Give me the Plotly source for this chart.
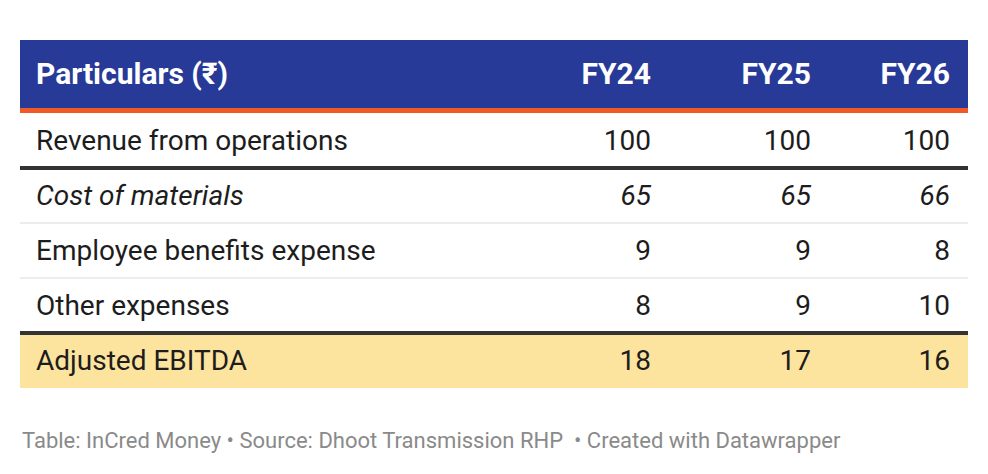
import plotly.graph_objects as go

# table contents
particulars = [
    "Revenue from operations",
    "Cost of materials",
    "Employee benefits expense",
    "Other expenses",
    "Adjusted EBITDA",
]
years = ["FY24", "FY25", "FY26"]
fy24 = [100, 65, 9, 8, 18]
fy25 = [100, 65, 9, 9, 17]
fy26 = [100, 66, 8, 10, 16]
header_label = "Particulars (₹)"
italic_rows = [1]
highlight_rows = [4]
footer_text = "Table: InCred Money • Source: Dhoot Transmission RHP  • Created with Datawrapper"

# layout (pixels of the 988x474 page)
W, H = 988, 474
PAGE_OFFSET = 8  # default body margin of the html page
TABLE_LEFT, TABLE_RIGHT = 20, 968
LABEL_X = 36
VALUE_X = [651, 811, 950]
ROW_PX = 55
FIRST_ROW_CENTER = 140.5
TEXT_NUDGE = 2  # plotly's "middle" sits a touch high
HEADER_TOP, HEADER_BOTTOM, RULE_BOTTOM = 40, 108, 113
HEADER_TEXT = 76
FOOTER_Y = 440

BLUE = "#283a97"
ORANGE = "#f05a28"
YELLOW = "#fde49e"
DARK = "#333333"
LIGHT = "#e6e6e6"
TEXT = "#1d1d1d"
FONT = "Roboto"


def row_y(px):
    # page pixel -> row units on the y axis
    return (px - FIRST_ROW_CENTER) / ROW_PX


def fmt(v, i):
    s = str(v)
    return f"<i>{s}</i>" if i in italic_rows else s


rows = list(range(len(particulars)))
text_rows = [r + TEXT_NUDGE / ROW_PX for r in rows]
fig = go.Figure()

# row labels
fig.add_trace(
    go.Scatter(
        x=[LABEL_X] * len(rows),
        y=text_rows,
        mode="text",
        text=[fmt(p, i) for i, p in enumerate(particulars)],
        textposition="middle right",
        textfont=dict(family=FONT, size=28, color=TEXT),
        hoverinfo="skip",
    )
)

# value columns
for x, vals in zip(VALUE_X, [fy24, fy25, fy26]):
    fig.add_trace(
        go.Scatter(
            x=[x] * len(rows),
            y=text_rows,
            mode="text",
            text=[fmt(v, i) for i, v in enumerate(vals)],
            textposition="middle left",
            textfont=dict(family=FONT, size=28, color=TEXT),
            hoverinfo="skip",
        )
    )

# header row
fig.add_trace(
    go.Scatter(
        x=[LABEL_X] + VALUE_X,
        y=[row_y(HEADER_TEXT)] * (len(years) + 1),
        mode="text",
        text=[header_label] + years,
        textposition=["middle right"] + ["middle left"] * len(years),
        textfont=dict(family=FONT, size=30, color="white", weight="bold"),
        hoverinfo="skip",
    )
)

shapes = [
    dict(type="rect", xref="x", yref="y", layer="below", line_width=0,
         x0=TABLE_LEFT, x1=TABLE_RIGHT, y0=row_y(HEADER_TOP), y1=row_y(HEADER_BOTTOM),
         fillcolor=BLUE),
    dict(type="rect", xref="x", yref="y", layer="below", line_width=0,
         x0=TABLE_LEFT, x1=TABLE_RIGHT, y0=row_y(HEADER_BOTTOM), y1=row_y(RULE_BOTTOM),
         fillcolor=ORANGE),
]
for i in highlight_rows:
    shapes.append(
        dict(type="rect", xref="x", yref="y", layer="below", line_width=0,
             x0=TABLE_LEFT, x1=TABLE_RIGHT, y0=i - 0.5, y1=i + 0.5, fillcolor=YELLOW)
    )
for i in rows[:-1]:
    heavy = i == 0 or (i + 1) in highlight_rows
    shapes.append(
        dict(type="line", xref="x", yref="y", layer="above",
             x0=TABLE_LEFT, x1=TABLE_RIGHT, y0=i + 0.5, y1=i + 0.5,
             line=dict(color=DARK if heavy else LIGHT, width=4 if heavy else 1.5))
    )

fig.add_annotation(
    x=TABLE_LEFT, y=row_y(FOOTER_Y), xref="x", yref="y",
    xanchor="left", yanchor="middle", showarrow=False,
    text=footer_text,
    font=dict(family=FONT, size=22, color="#8a8a8a"),
)

fig.update_layout(
    width=W,
    height=H,
    margin=dict(l=0, r=0, t=0, b=0),
    paper_bgcolor="white",
    plot_bgcolor="white",
    showlegend=False,
    shapes=shapes,
    # axes span the page pixels the figure actually covers
    xaxis=dict(range=[PAGE_OFFSET, W + PAGE_OFFSET], visible=False, fixedrange=True),
    yaxis=dict(range=[row_y(H + PAGE_OFFSET), row_y(PAGE_OFFSET)], visible=False,
               fixedrange=True),
)

fig.write_html("out.html", config={"displayModeBar": False})
